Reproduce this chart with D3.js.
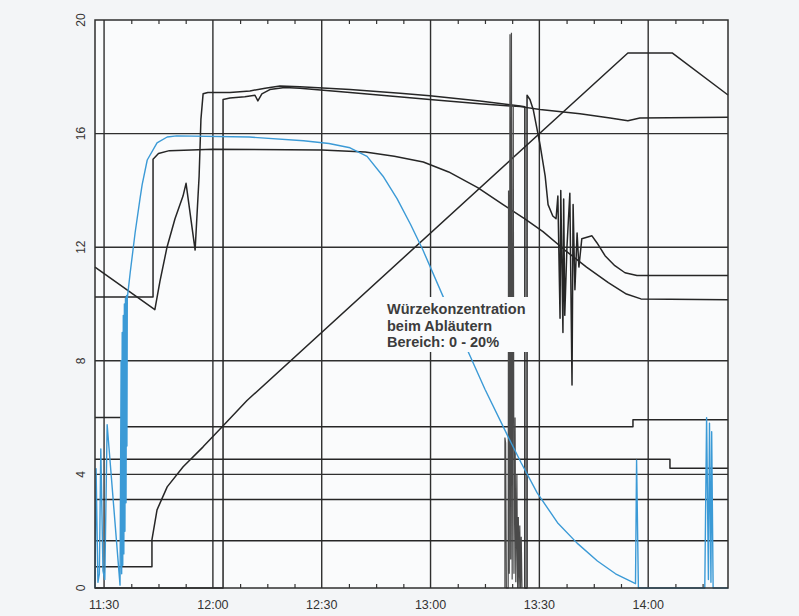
<html>
<head>
<meta charset="utf-8">
<script src="https://d3js.org/d3.v7.min.js"></script>
<style>
  body { margin: 0; background: #f3f5f7; }
  text { font-family: "Liberation Sans", Arial, sans-serif; }
</style>
</head>
<body>
<svg id="chart" width="799" height="616"></svg>
<script>
// time is minutes after 11:30, values are the recorder scale 0 - 20
var timeTicks = [0, 30, 60, 90, 120, 150]
var timeLabels = ['11:30', '12:00', '12:30', '13:00', '13:30', '14:00']
var valueTicks = [0, 4, 8, 12, 16, 20]
var gridValues = [4, 8, 12, 16]
var minorTimeTicks = [7.5, 15, 22.5, 37.5, 45, 52.5, 67.5, 75, 82.5, 97.5, 105, 112.5,
  127.5, 135, 142.5, 157.5, 165]
var noteLines = ['Würzekonzentration', 'beim Abläutern', 'Bereich:  0 - 20%']

// blue pen: wort concentration
var wuerze = [[-2.5, 0], [-2.2, 4.2], [-1.7, 0.2], [-1.3, 0.5], [-0.9, 4.9], [-0.3, 0.6], [0.2, 0.3],
  [0.85, 5.75], [4.4, 0.1], [4.7, 8.0], [4.85, 0.5], [5.0, 9.0], [5.15, 0.8], [5.3, 9.6],
  [5.45, 1.2], [5.6, 10.0], [5.75, 2.0], [5.9, 10.2], [6.05, 3.0], [6.2, 10.3], [6.3, 5.0],
  [6.4, 10.2], [7.2, 11.1], [8.55, 12.5], [9.9, 13.7], [10.5, 14.2], [11.9, 15.07],
  [14.6, 15.67], [17.4, 15.88], [20, 15.92], [40, 15.88], [55, 15.75], [62, 15.65], [67.8, 15.5],
  [72.5, 15.2], [76.9, 14.5], [80.8, 13.7], [84.5, 12.8], [87.9, 11.9], [93.5, 10.25], [100.1, 8.4],
  [105, 7.0], [111.1, 5.4], [115, 4.4], [119.4, 3.35], [125, 2.3], [130.4, 1.58], [136, 0.95],
  [141, 0.5], [145.8, 0.2], [146.5, 0.15], [146.8, 4.5], [147.3, 0], [165.6, 0], [166.1, 6.0],
  [166.6, 0.3], [166.9, 5.8], [167.3, 0.2], [167.5, 5.5], [167.9, 0], [172, 0]]

// black pens
var plateau = [[-2.5, 10.25], [13.5, 10.25], [13.5, 15.1], [15, 15.3], [18, 15.4], [30, 15.45],
  [60, 15.42], [72, 15.35], [80, 15.2], [88, 15.0], [95, 14.65], [103, 14.1], [110, 13.5],
  [116, 13.0], [121, 12.55], [127, 11.9], [133, 11.3], [139, 10.75], [144, 10.35], [148, 10.18],
  [172, 10.15]]

var upperA = [[-2.5, 11.3], [14.0, 9.8], [15.4, 10.8], [17.35, 12.0], [19.55, 13.0], [21.76, 13.8],
  [22.6, 14.25], [25.1, 11.9], [26.2, 14.5], [26.7, 16.5], [27.3, 17.4], [28.6, 17.45],
  [34.7, 17.45], [40.2, 17.5], [44.4, 17.6], [48.5, 17.68], [54, 17.65], [67.8, 17.55],
  [81.6, 17.42], [89.8, 17.33], [103.6, 17.15], [114.7, 16.97], [116.0, 16.95], [116.0, 0],
  [116.6, 0], [116.6, 17.35], [117.4, 17.2], [118.3, 16.85], [120.2, 15.6], [121.6, 14.5],
  [122.4, 13.5], [123.7, 13.1], [124.6, 13.0], [125.1, 13.8], [125.7, 9.5], [125.9, 14.0],
  [126.5, 9.0], [126.7, 13.7], [127.0, 9.6], [127.6, 12.0], [128.4, 13.9], [129.0, 7.15],
  [129.3, 13.5], [129.8, 10.5], [130.4, 12.5], [130.9, 11.3], [131.7, 12.3], [134.5, 12.4],
  [135.9, 12.15], [138.1, 11.7], [140.8, 11.35], [143.6, 11.1], [146.9, 11.0], [172, 11.0]]

var upperB = [[-2.5, 0], [32.8, 0], [32.8, 17.2], [34.7, 17.25], [38.8, 17.3], [41.6, 17.35],
  [42.4, 17.15], [43.5, 17.4], [45.7, 17.55], [49.8, 17.62], [54, 17.6], [67.8, 17.45],
  [89.8, 17.2], [103.6, 17.05], [114.7, 16.95], [120.2, 16.85], [131.2, 16.7], [139.5, 16.55],
  [144.4, 16.45], [147.7, 16.55], [172, 16.58]]

var ramp = [[-2.5, 0.75], [13.2, 0.75], [13.2, 1.7], [14.6, 2.75], [17.4, 3.56], [21.8, 4.27],
  [27.3, 4.97], [32.5, 5.67], [39.4, 6.6], [144.4, 18.84], [156.6, 18.84], [172, 17.36]]

var step6 = [[-2.5, 6.0], [5.8, 6.0], [5.8, 5.68], [145.8, 5.68], [145.8, 5.92], [172, 5.92]]
var step45 = [[-2.5, 4.53], [156, 4.53], [156, 4.22], [172, 4.22]]
var level31 = [[-2.5, 3.12], [172, 3.12]]
var level17 = [[-2.5, 1.66], [172, 1.66]]

var spikes = [[110.5, 0], [110.5, 5.3], [110.7, 5.1], [110.9, 0], [111.4, 0], [111.5, 14],
  [111.7, 0.5], [111.9, 19.5], [112.1, 1], [112.3, 19.55], [112.5, 0.3], [112.8, 17],
  [113.0, 0.5], [113.3, 6], [113.5, 0.2], [113.8, 4], [114.0, 0], [114.2, 2.5], [114.4, 0],
  [114.6, 2.2], [114.8, 0], [115.0, 1.8], [115.2, 0]]

var svg = d3.select('#chart')
var margin = { left: 95, right: 71, top: 20, bottom: 28 }
var width = 799, height = 616

var x = d3.scaleLinear().domain([-2.5, 172]).range([margin.left, width - margin.right])
var y = d3.scaleLinear().domain([0, 20]).range([height - margin.bottom, margin.top])

svg.append('rect')
  .attr('width', width).attr('height', height)
  .attr('fill', '#f3f5f7')
svg.append('rect')
  .attr('x', x(-2.5)).attr('y', y(20))
  .attr('width', x(172) - x(-2.5)).attr('height', y(0) - y(20))
  .attr('fill', '#fafbfc')

// grid
var grid = svg.append('g').attr('stroke', '#2f2f2f').attr('stroke-width', 1.4)
grid.selectAll('.vgrid')
  .data(timeTicks)
  .enter().append('line')
  .attr('class', 'vgrid')
  .attr('x1', function (d) { return x(d) }).attr('x2', function (d) { return x(d) })
  .attr('y1', y(20)).attr('y2', y(0))
grid.selectAll('.hgrid')
  .data(gridValues)
  .enter().append('line')
  .attr('class', 'hgrid')
  .attr('x1', x(-2.5)).attr('x2', x(172))
  .attr('y1', function (d) { return y(d) }).attr('y2', function (d) { return y(d) })

// minor ticks on top and bottom edge
svg.append('g')
  .attr('transform', 'translate(0,' + y(20) + ')')
  .call(d3.axisBottom(x).tickValues(minorTimeTicks).tickSize(4).tickFormat(''))
  .call(function (g) { g.select('.domain').remove() })
svg.append('g')
  .attr('transform', 'translate(0,' + y(0) + ')')
  .call(d3.axisTop(x).tickValues(minorTimeTicks).tickSize(4).tickFormat(''))
  .call(function (g) { g.select('.domain').remove() })
svg.selectAll('.tick line').attr('stroke', '#333').attr('stroke-width', 1.2)

var line = d3.line()
  .x(function (d) { return x(d[0]) })
  .y(function (d) { return y(d[1]) })

var blackPens = [plateau, upperA, upperB, ramp, step6, step45, level31, level17]
svg.append('g').selectAll('path')
  .data(blackPens)
  .enter().append('path')
  .attr('d', line)
  .attr('fill', 'none')
  .attr('stroke', '#262626')
  .attr('stroke-width', 1.5)
  .attr('stroke-linejoin', 'round')

svg.append('path')
  .attr('d', line(spikes))
  .attr('fill', 'none')
  .attr('stroke', '#4a4a4a')
  .attr('stroke-width', 1.2)

svg.append('path')
  .attr('d', line(wuerze))
  .attr('fill', 'none')
  .attr('stroke', '#3b9ad6')
  .attr('stroke-width', 1.4)
  .attr('stroke-linejoin', 'round')

// note box, it hides the lines behind it
var note = svg.append('g').attr('transform', 'translate(385,297)')
note.append('rect')
  .attr('width', 144).attr('height', 55)
  .attr('fill', '#fafbfc')
note.selectAll('text')
  .data(noteLines)
  .enter().append('text')
  .attr('x', 2)
  .attr('y', function (d, i) { return 17 + i * 16.5 })
  .attr('font-size', 14.5)
  .attr('font-weight', 'bold')
  .attr('fill', '#3c3c3c')
  .text(function (d) { return d })

// frame
svg.append('rect')
  .attr('x', x(-2.5)).attr('y', y(20))
  .attr('width', x(172) - x(-2.5)).attr('height', y(0) - y(20))
  .attr('fill', 'none')
  .attr('stroke', '#2f2f2f')
  .attr('stroke-width', 1.5)

// labels
svg.selectAll('.tlabel')
  .data(timeTicks)
  .enter().append('text')
  .attr('class', 'tlabel')
  .attr('x', function (d) { return x(d) })
  .attr('y', 609)
  .attr('text-anchor', 'middle')
  .attr('font-size', 12.5)
  .attr('fill', '#333')
  .text(function (d, i) { return timeLabels[i] })

svg.selectAll('.vlabel')
  .data(valueTicks)
  .enter().append('text')
  .attr('class', 'vlabel')
  .attr('transform', function (d) { return 'translate(81,' + y(d) + ') rotate(-90)' })
  .attr('text-anchor', 'middle')
  .attr('dy', '0.35em')
  .attr('font-size', 12)
  .attr('fill', '#333')
  .text(function (d) { return d })
</script>
</body>
</html>
